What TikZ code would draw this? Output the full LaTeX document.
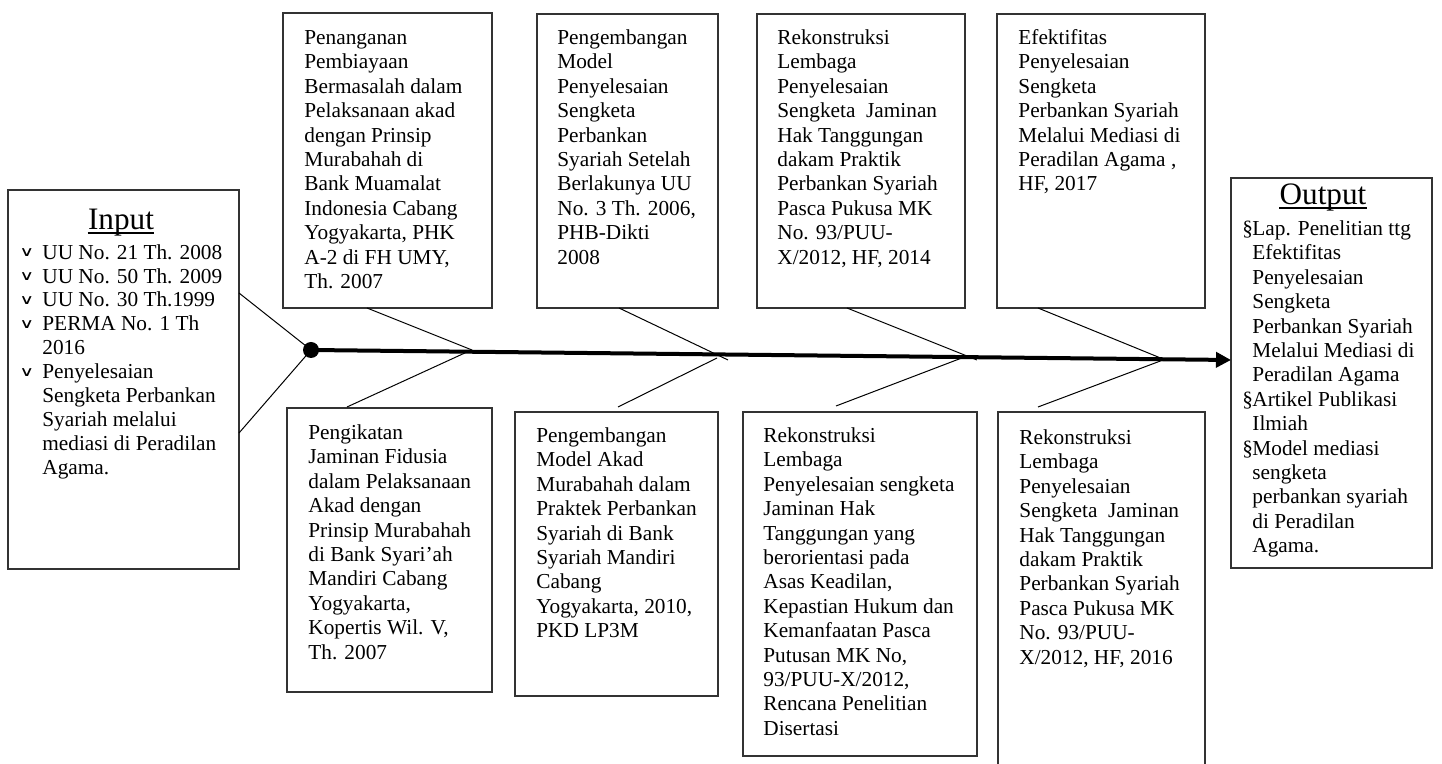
\documentclass[tikz,border=0pt]{standalone}
\usepackage{fontspec}
\setmainfont{Liberation Serif}
\newfontfamily\dv{DejaVu Sans}
\usetikzlibrary{arrows.meta}
\newcommand\bodyfont{\fontsize{10.65pt}{12.2pt}\selectfont}
\newcommand\inputfont{\fontsize{10.65pt}{11.95pt}\selectfont}
\newcommand\titlefont{\fontsize{15.6pt}{18pt}\selectfont}
\newcommand\chk{\makebox[11.5pt][l]{\raisebox{1.3pt}{\scalebox{1.5}[1]{\dv\fontsize{6.8pt}{7pt}\selectfont ∨}}}}
\newcommand\chkind{\hspace*{11.5pt}}
\newcommand\sect{\makebox[5pt][l]{§}}
\newcommand\sind{\hspace*{5pt}}
\begin{document}
\begin{tikzpicture}[x=0.5pt,y=-0.5pt,
 box/.style={draw=black!80, line width=0.6pt, rectangle, inner sep=0pt, outer sep=0pt, anchor=north west},
 txt/.style={anchor=north west, align=left, inner sep=0pt, font=\bodyfont},
 ttl/.style={anchor=base, inner sep=0pt, font=\titlefont},
 rib/.style={line width=0.5pt, draw=black},
 spine/.style={line width=2pt, draw=black, -{Triangle[length=7.5pt,width=7.5pt]}},
 uline/.style={line width=0.7pt}]
\useasboundingbox (0,0) rectangle (1442,764);
\fill[white] (0,0) rectangle (1442,764);
\clip (0,0) rectangle (1442,764);

% boxes
\node[box, minimum width=115.5pt, minimum height=189.5pt] (in) at (8,190) {};
\node[box, minimum width=100.5pt, minimum height=195pt] (out) at (1231,178) {};
\node[box, minimum width=104.5pt, minimum height=147.5pt] (t1) at (283,13) {};
\node[box, minimum width=90.5pt, minimum height=147pt] (t2) at (537,14) {};
\node[box, minimum width=104pt, minimum height=147pt] (t3) at (757,14) {};
\node[box, minimum width=104pt, minimum height=147pt] (t4) at (997,14) {};
\node[box, minimum width=102.5pt, minimum height=142pt] (b1) at (287,408) {};
\node[box, minimum width=101.5pt, minimum height=142pt] (b2) at (515,412) {};
\node[box, minimum width=117pt, minimum height=172pt] (b3) at (743,412) {};
\node[box, minimum width=103.5pt, minimum height=189pt] (b4) at (998,412) {};

% titles
\node[ttl] (inT) at (121,230) {Input};
\draw[uline] ([yshift=-1.6pt]inT.base west) -- ([yshift=-1.6pt]inT.base east);
\node[ttl] (outT) at (1323,205) {Output};
\draw[uline] ([yshift=-1.6pt]outT.base west) -- ([yshift=-1.6pt]outT.base east);

% input / output texts
\node[txt, font=\inputfont] (inX) at (19,242) {\strut\chk UU No. 21 Th. 2008\\
\chk UU No. 50 Th. 2009\\
\chk UU No. 30 Th.1999\\
\chk PERMA No. 1 Th\\
\chkind 2016\\
\chk Penyelesaian\\
\chkind Sengketa Perbankan\\
\chkind Syariah melalui\\
\chkind mediasi di Peradilan\\
\chkind Agama.};

\node[txt] (outX) at (1242,218) {\strut\sect Lap. Penelitian ttg\\
\sind Efektifitas\\
\sind Penyelesaian\\
\sind Sengketa\\
\sind Perbankan Syariah\\
\sind Melalui Mediasi di\\
\sind Peradilan Agama\\
\sect Artikel Publikasi\\
\sind Ilmiah\\
\sect Model mediasi\\
\sind sengketa\\
\sind perbankan syariah\\
\sind di Peradilan\\
\sind Agama.};

% top texts
\node[txt] (t1x) at (304,27) {\strut Penanganan\\Pembiayaan\\Bermasalah dalam\\Pelaksanaan akad\\dengan Prinsip\\Murabahah di\\Bank Muamalat\\Indonesia Cabang\\Yogyakarta, PHK\\A-2 di FH UMY,\\Th. 2007};
\node[txt] (t2x) at (557,27) {\strut Pengembangan\\Model\\Penyelesaian\\Sengketa\\Perbankan\\Syariah Setelah\\Berlakunya UU\\No. 3 Th. 2006,\\PHB-Dikti\\2008};
\node[txt] (t3x) at (777,27) {\strut Rekonstruksi\\Lembaga\\Penyelesaian\\Sengketa\ \ Jaminan\\Hak Tanggungan\\dakam Praktik\\Perbankan Syariah\\Pasca Pukusa MK\\No. 93/PUU-\\X/2012, HF, 2014};
\node[txt] (t4x) at (1018,27) {\strut Efektifitas\\Penyelesaian\\Sengketa\\Perbankan Syariah\\Melalui Mediasi di\\Peradilan Agama ,\\HF, 2017};

% bottom texts
\node[txt] (b1x) at (308,422) {\strut Pengikatan\\Jaminan Fidusia\\dalam Pelaksanaan\\Akad dengan\\Prinsip Murabahah\\di Bank Syari’ah\\Mandiri Cabang\\Yogyakarta,\\Kopertis Wil. V,\\Th. 2007};
\node[txt] (b2x) at (536,425) {\strut Pengembangan\\Model Akad\\Murabahah dalam\\Praktek Perbankan\\Syariah di Bank\\Syariah Mandiri\\Cabang\\Yogyakarta, 2010,\\PKD LP3M};
\node[txt] (b3x) at (763,425) {\strut Rekonstruksi\\Lembaga\\Penyelesaian sengketa\\Jaminan Hak\\Tanggungan yang\\berorientasi pada\\Asas Keadilan,\\Kepastian Hukum dan\\Kemanfaatan Pasca\\Putusan MK No,\\93/PUU-X/2012,\\Rencana Penelitian\\Disertasi};
\node[txt] (b4x) at (1019,427) {\strut Rekonstruksi\\Lembaga\\Penyelesaian\\Sengketa\ \ Jaminan\\Hak Tanggungan\\dakam Praktik\\Perbankan Syariah\\Pasca Pukusa MK\\No. 93/PUU-\\X/2012, HF, 2016};

% spine
\node[circle, fill=black, minimum size=8pt, inner sep=0pt] (dot) at (311,350) {};
\draw[spine] (dot.center) -- ([yshift=6.5pt]out.west);

% spine points
\coordinate (u1) at (472,350);
\coordinate (u2) at (728,360);
\coordinate (u3) at (977,360);
\coordinate (u4) at (1163,359);
\coordinate (l1) at (467,352);
\coordinate (l2) at (717,358);
\coordinate (l3) at (967,356);
\coordinate (l4) at (1163,360);

% ribs
\draw[rib] ([yshift=-51.5pt]in.north east) -- (dot.center);
\draw[rib] ([yshift=-121.5pt]in.north east) -- (dot.center);
\draw[rib] ([xshift=42pt]t1.south west) -- (u1);
\draw[rib] ([xshift=41pt]t2.south west) -- (u2);
\draw[rib] ([xshift=45pt]t3.south west) -- (u3);
\draw[rib] ([xshift=20.5pt]t4.south west) -- (u4);
\draw[rib] ([xshift=30pt,yshift=0.5pt]b1.north west) -- (l1);
\draw[rib] ([xshift=51.5pt,yshift=2.5pt]b2.north west) -- (l2);
\draw[rib] ([xshift=46.5pt,yshift=3pt]b3.north west) -- (l3);
\draw[rib] ([xshift=20pt,yshift=2.5pt]b4.north west) -- (l4);
\end{tikzpicture}
\end{document}
